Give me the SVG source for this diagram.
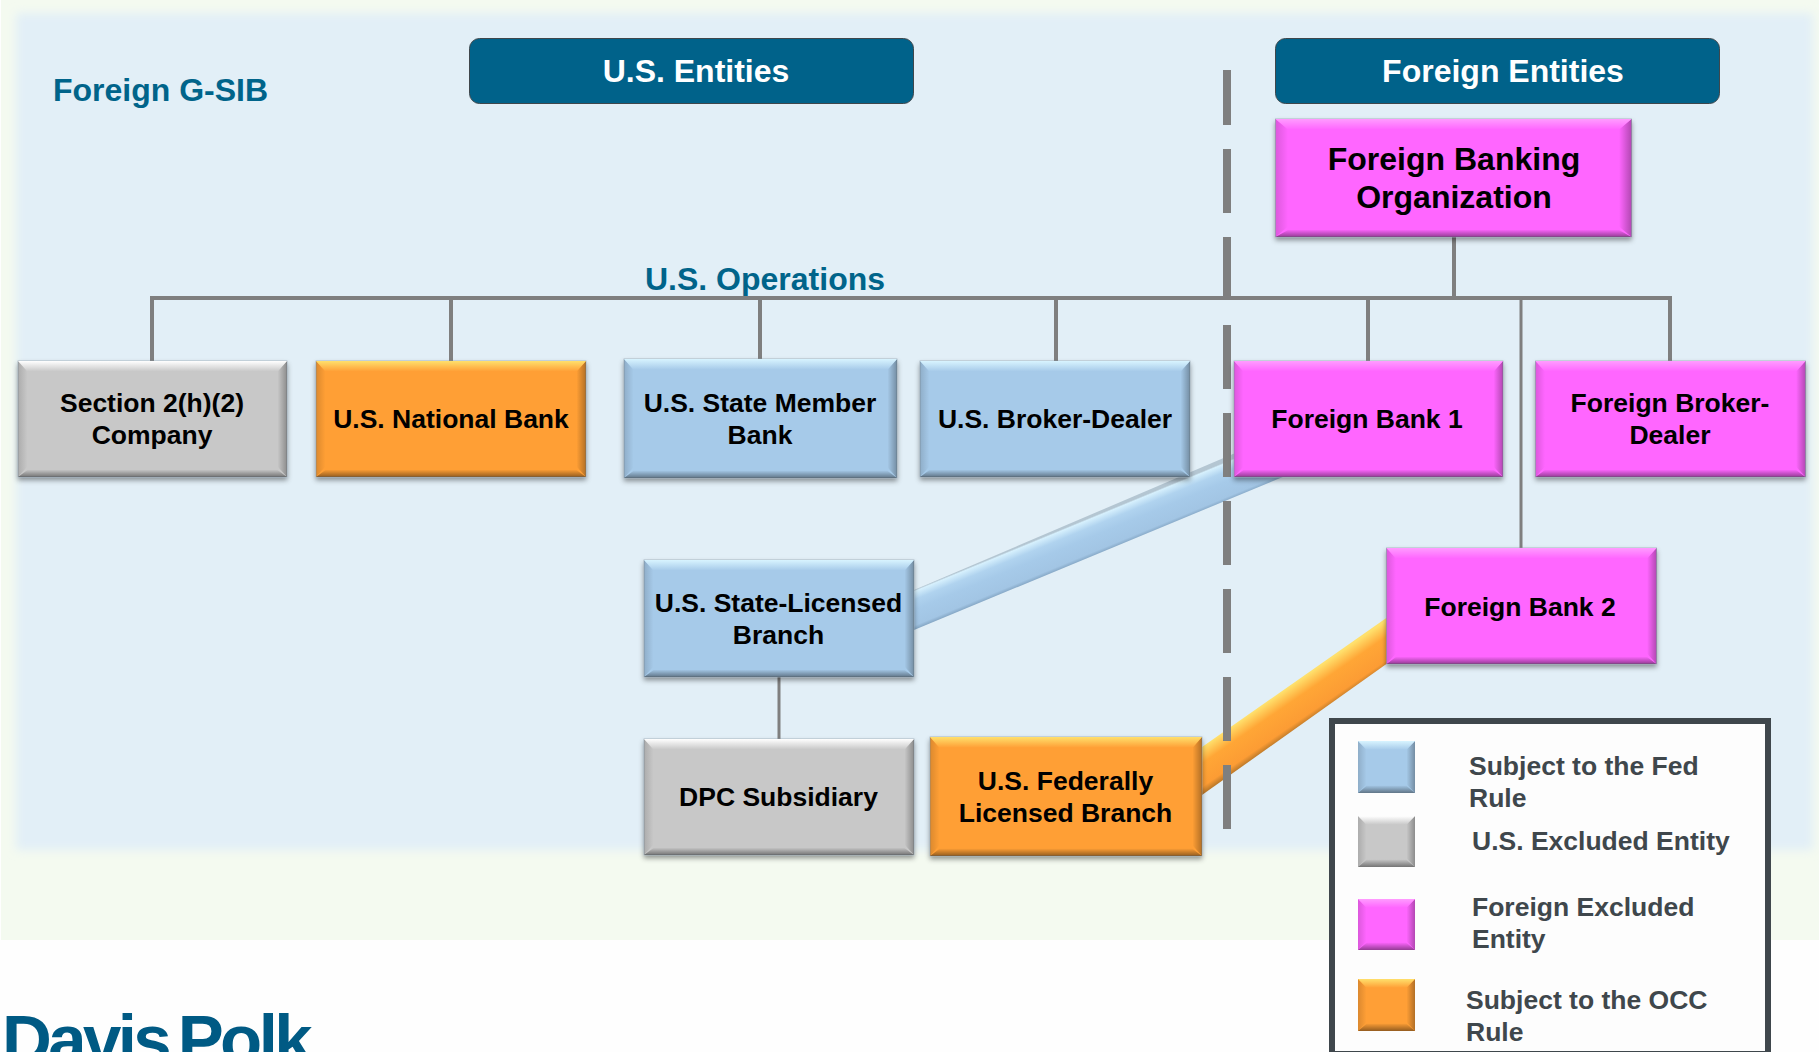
<svg xmlns="http://www.w3.org/2000/svg" width="1819" height="1052" viewBox="0 0 1819 1052">
<style>
text{font-family:"Liberation Sans",Arial,sans-serif;font-weight:bold;text-anchor:middle}
.n{font-size:26.5px;fill:#000}
.big{font-size:32px;fill:#000}
.hd{font-size:32px;fill:#fff}
.tl{font-size:32px;fill:#00648a}
.lg{font-size:26.5px;fill:#3f474c;text-anchor:start}
.ln{stroke:#7f7f7f;stroke-width:4;fill:none}
.blue{fill:#a6cae9}.gray{fill:#c8c8c8}.mag{fill:#ff66ff}.org{fill:#ff9f36}
.body{stroke:#8a9aa6;stroke-opacity:.6;stroke-width:1;filter:url(#sh)}
</style>
<defs>
<filter id="sh" x="-10%" y="-10%" width="120%" height="125%"><feDropShadow dx="0" dy="3" stdDeviation="2.5" flood-color="#000" flood-opacity=".4"/></filter>
<filter id="soft" x="-2%" y="-2%" width="104%" height="104%"><feGaussianBlur stdDeviation="5"/></filter>
<linearGradient id="tBlue" x1="0" y1="0" x2="0" y2="1"><stop offset="0" stop-color="#d8f4ff"/><stop offset="1" stop-color="#a6cae9"/></linearGradient>
<linearGradient id="tGray" x1="0" y1="0" x2="0" y2="1"><stop offset="0" stop-color="#fff"/><stop offset="1" stop-color="#c8c8c8"/></linearGradient>
<linearGradient id="tMag" x1="0" y1="0" x2="0" y2="1"><stop offset="0" stop-color="#ff9cff"/><stop offset="1" stop-color="#ff66ff"/></linearGradient>
<linearGradient id="tOrg" x1="0" y1="0" x2="0" y2="1"><stop offset="0" stop-color="#ffe06c"/><stop offset="1" stop-color="#ff9f36"/></linearGradient>
<linearGradient id="bB" x1="0" y1="1" x2="0" y2="0"><stop offset="0" stop-color="#000" stop-opacity=".42"/><stop offset="1" stop-color="#000" stop-opacity=".03"/></linearGradient>
<linearGradient id="bL" x1="0" y1="0" x2="1" y2="0"><stop offset="0" stop-color="#000" stop-opacity=".14"/><stop offset="1" stop-color="#000" stop-opacity="0"/></linearGradient>
<linearGradient id="bR" x1="1" y1="0" x2="0" y2="0"><stop offset="0" stop-color="#000" stop-opacity=".3"/><stop offset="1" stop-color="#000" stop-opacity="0"/></linearGradient>
<linearGradient id="bandB" gradientUnits="userSpaceOnUse" x1="914" y1="590" x2="928" y2="624"><stop offset="0" stop-color="#b4c6d2"/><stop offset=".04" stop-color="#d6f0fd"/><stop offset=".25" stop-color="#b0d3ef"/><stop offset=".5" stop-color="#a6cae9"/><stop offset=".9" stop-color="#a2c5e4"/><stop offset="1" stop-color="#86a8c6"/></linearGradient>
<linearGradient id="bandO" gradientUnits="userSpaceOnUse" x1="1202" y1="747" x2="1224" y2="779"><stop offset="0" stop-color="#ffe06c"/><stop offset=".35" stop-color="#ffa636"/><stop offset=".85" stop-color="#fc9c34"/><stop offset="1" stop-color="#bd7a2a"/></linearGradient>
<g id="bev">
<polygon points="0,0 3.5,9 3.5,91 0,100" fill="url(#bL)"/>
<polygon points="100,0 96.5,9 96.5,91 100,100" fill="url(#bR)"/>
<polygon points="0,100 3.5,94 96.5,94 100,100" fill="url(#bB)"/>
</g>
<polygon id="tB" points="0,0 100,0 96.5,9 3.5,9" fill="url(#tBlue)"/>
<polygon id="tG" points="0,0 100,0 96.5,9 3.5,9" fill="url(#tGray)"/>
<polygon id="tM" points="0,0 100,0 96.5,9 3.5,9" fill="url(#tMag)"/>
<polygon id="tO" points="0,0 100,0 96.5,9 3.5,9" fill="url(#tOrg)"/>
<g id="sbev">
<polygon points="0,0 15,17 15,83 0,100" fill="url(#bL)"/>
<polygon points="100,0 85,17 85,83 100,100" fill="url(#bR)"/>
<polygon points="0,100 15,86 85,86 100,100" fill="url(#bB)"/>
</g>
<polygon id="sB" points="0,0 100,0 85,17 15,17" fill="url(#tBlue)"/>
<polygon id="sG" points="0,0 100,0 85,17 15,17" fill="url(#tGray)"/>
<polygon id="sM" points="0,0 100,0 85,17 15,17" fill="url(#tMag)"/>
<polygon id="sO" points="0,0 100,0 85,17 15,17" fill="url(#tOrg)"/>
</defs>

<g id="background">
<rect width="1819" height="1052" fill="#fefefe"/>
<rect x="1" y="0" width="1818" height="940" fill="#f4faf0"/>
<rect x="16" y="13" width="1797" height="837" fill="#e2eff7" filter="url(#soft)"/>
</g>

<text class="tl" x="160.500" y="101">Foreign G-SIB</text>
<text class="tl" x="765" y="290">U.S. Operations</text>

<g id="connectors">
<polygon points="914,590 1240,451 1290,474 914,630" fill="url(#bandB)"/>
<polygon points="1202,747 1392,614 1392,660 1202,795" fill="url(#bandO)"/>
<path class="ln" d="M152 361V298H1670V361M451 298V361M760 298V361M1056 298V361M1368 298V361M1454 237V298"/>
<path class="ln" d="M1521 298V548" style="stroke-width:3"/>
<path class="ln" d="M779 677V739" style="stroke-width:3"/>
<path id="divider" d="M1227 70V125M1227 149V213M1227 237V300M1227 325V389M1227 413V477M1227 501V565M1227 589V653M1227 677V741M1227 765V829" fill="none" stroke="#7f7f7f" stroke-width="8"/>
</g>

<g id="us-entities"><rect x="469.500" y="38.500" width="444" height="65" rx="10" fill="#00628a" stroke="#3f474c"/><text class="hd" x="696" y="82">U.S. Entities</text></g>
<g id="foreign-entities"><rect x="1275.500" y="38.500" width="444" height="65" rx="10" fill="#00628a" stroke="#3f474c"/><text class="hd" x="1503" y="82">Foreign Entities</text></g>

<g id="fbo"><rect class="body mag" x="1275.500" y="119" width="356" height="118"/><g transform="translate(1275.500 119) scale(3.56 1.18)"><use href="#bev"/><use href="#tM"/></g><text class="big" x="1454" y="170">Foreign Banking</text><text class="big" x="1454" y="208">Organization</text></g>

<g id="section-2h2"><rect class="body gray" x="18" y="361" width="269" height="116"/><g transform="translate(18 361) scale(2.69 1.16)"><use href="#bev"/><use href="#tG"/></g><text class="n" x="152" y="412">Section 2(h)(2)</text><text class="n" x="152" y="444">Company</text></g>
<g id="us-national-bank"><rect class="body org" x="316" y="361" width="270" height="116"/><g transform="translate(316 361) scale(2.7 1.16)"><use href="#bev"/><use href="#tO"/></g><text class="n" x="451" y="428">U.S. National Bank</text></g>
<g id="us-state-member-bank"><rect class="body blue" x="624" y="359" width="273" height="119"/><g transform="translate(624 359) scale(2.73 1.19)"><use href="#bev"/><use href="#tB"/></g><text class="n" x="760" y="412">U.S. State Member</text><text class="n" x="760" y="444">Bank</text></g>
<g id="us-broker-dealer"><rect class="body blue" x="920" y="361" width="270" height="116"/><g transform="translate(920 361) scale(2.7 1.16)"><use href="#bev"/><use href="#tB"/></g><text class="n" x="1055" y="428">U.S. Broker-Dealer</text></g>
<g id="foreign-bank-1"><rect class="body mag" x="1234" y="361" width="269" height="116"/><g transform="translate(1234 361) scale(2.69 1.16)"><use href="#bev"/><use href="#tM"/></g><text class="n" x="1367" y="428">Foreign Bank 1</text></g>
<g id="foreign-broker-dealer"><rect class="body mag" x="1535.500" y="361" width="270" height="116"/><g transform="translate(1535.500 361) scale(2.7 1.16)"><use href="#bev"/><use href="#tM"/></g><text class="n" x="1670" y="412">Foreign Broker-</text><text class="n" x="1670" y="444">Dealer</text></g>
<g id="us-state-licensed-branch"><rect class="body blue" x="644" y="560" width="270" height="117"/><g transform="translate(644 560) scale(2.7 1.17)"><use href="#bev"/><use href="#tB"/></g><text class="n" x="778.500" y="612">U.S. State-Licensed</text><text class="n" x="778.500" y="644">Branch</text></g>
<g id="foreign-bank-2"><rect class="body mag" x="1386.500" y="548" width="270" height="116"/><g transform="translate(1386.500 548) scale(2.7 1.16)"><use href="#bev"/><use href="#tM"/></g><text class="n" x="1520" y="616">Foreign Bank 2</text></g>
<g id="dpc-subsidiary"><rect class="body gray" x="644" y="739" width="270" height="116"/><g transform="translate(644 739) scale(2.7 1.16)"><use href="#bev"/><use href="#tG"/></g><text class="n" x="778.500" y="806">DPC Subsidiary</text></g>
<g id="us-federally-licensed-branch"><rect class="body org" x="930" y="737" width="272" height="119"/><g transform="translate(930 737) scale(2.72 1.19)"><use href="#bev"/><use href="#tO"/></g><text class="n" x="1065.500" y="790">U.S. Federally</text><text class="n" x="1065.500" y="822">Licensed Branch</text></g>

<g id="legend">
<rect x="1332" y="721" width="436" height="333" fill="#fdfdfd" stroke="#3f474c" stroke-width="6"/>
<rect class="blue" x="1358" y="741" width="57" height="52"/><g transform="translate(1358 741) scale(.57 .52)"><use href="#sbev"/><use href="#sB"/></g>
<rect class="gray" x="1358" y="816" width="57" height="51"/><g transform="translate(1358 816) scale(.57 .51)"><use href="#sbev"/><use href="#sG"/></g>
<rect class="mag" x="1358" y="899" width="57" height="51"/><g transform="translate(1358 899) scale(.57 .51)"><use href="#sbev"/><use href="#sM"/></g>
<rect class="org" x="1358" y="979" width="57" height="52"/><g transform="translate(1358 979) scale(.57 .52)"><use href="#sbev"/><use href="#sO"/></g>
<text class="lg" x="1469" y="775">Subject to the Fed</text><text class="lg" x="1469" y="807">Rule</text>
<text class="lg" x="1472" y="850">U.S. Excluded Entity</text>
<text class="lg" x="1472" y="916">Foreign Excluded</text><text class="lg" x="1472" y="948">Entity</text>
<text class="lg" x="1466" y="1009">Subject to the OCC</text><text class="lg" x="1466" y="1041">Rule</text>
</g>

<text id="logo" x="2" y="1063" style="font-size:69px;fill:#005a84;text-anchor:start;letter-spacing:-3.600px;word-spacing:-6px">Davis Polk</text>
</svg>
